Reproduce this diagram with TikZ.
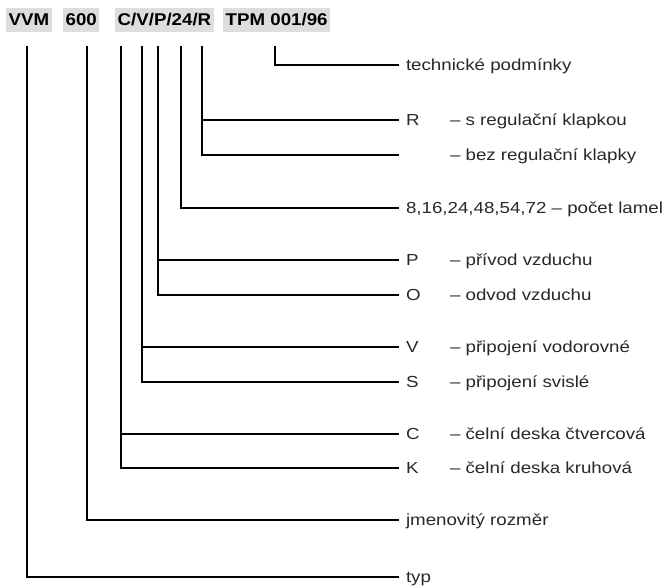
\documentclass[tikz,border=0pt]{standalone}
\usepackage{fontspec}
\setmainfont{Liberation Sans}[FakeStretch=1.1]
\newfontfamily\labelfont{Liberation Sans}[FakeStretch=1.17]
\usepackage{xcolor}
\usetikzlibrary{positioning}

\definecolor{boxgray}{RGB}{221,221,221}
\definecolor{labelgray}{RGB}{40,40,40}

\begin{document}
\begin{tikzpicture}[x=1pt, y=-1pt,
    field/.style={fill=boxgray, anchor=west, inner xsep=2.5pt, inner ysep=0pt,
        minimum height=24pt, text=black, font=\fontsize{17}{20}\selectfont\bfseries},
    code/.style={anchor=west, inner sep=0pt, outer xsep=7pt, text height=11.5pt,
        text depth=0pt, text=labelgray, font=\labelfont\fontsize{16}{19}\selectfont},
    desc/.style={code, outer xsep=0pt},
    lead/.style={line width=1.8pt, black}]
    \useasboundingbox (0,0) rectangle (666,587);

    % Type designation
    \node[field] (hVVM) at (6,20) {VVM};
    \node[field] (h600) at (63,20) {600};
    \node[field] (hCode) at (115,20) {C/V/P/24/R};
    \node[field] (hTPM) at (223,20) {TPM 001/96};

    % Tops of the leaders, under single characters
    \coordinate (tVVM) at (27,46);
    \coordinate (t600) at (87,46);
    \coordinate (tC) at (121,46);
    \coordinate (tV) at (142,46);
    \coordinate (tP) at (158,46);
    \coordinate (tN) at (181,46);
    \coordinate (tR) at (202,46);
    \coordinate (tTPM) at (275,46);

    % --- LABELS ---
    \node[code] (lTPM) at (399,65) {technické podmínky};

    \node[code] (lR) at (399,120) {R};
    \node[desc] (dR) at (450,120) {– s regulační klapkou};
    \coordinate (eR) at (399,155);
    \node[desc] (dR0) at (450,155) {– bez regulační klapky};

    \node[code] (lN) at (399,208) {8,16,24,48,54,72 – počet lamel};

    \node[code] (lP) at (399,260) {P};
    \node[desc] (dP) at (450,260) {– přívod vzduchu};
    \node[code] (lO) at (399,295) {O};
    \node[desc] (dO) at (450,295) {– odvod vzduchu};

    \node[code] (lV) at (399,347) {V};
    \node[desc] (dV) at (450,347) {– připojení vodorovné};
    \node[code] (lS) at (399,382) {S};
    \node[desc] (dS) at (450,382) {– připojení svislé};

    \node[code] (lC) at (399,434) {C};
    \node[desc] (dC) at (450,434) {– čelní deska čtvercová};
    \node[code] (lK) at (399,468) {K};
    \node[desc] (dK) at (450,468) {– čelní deska kruhová};

    \node[code] (l600) at (399,520) {jmenovitý rozměr};
    \node[code] (lVVM) at (399,577) {typ};

    % --- LEADERS ---
    \draw[lead] (tTPM) |- (lTPM.west);
    \draw[lead] (tR) |- (lR.west);
    \draw[lead] (tR) |- (eR);
    \draw[lead] (tN) |- (lN.west);
    \draw[lead] (tP) |- (lP.west);
    \draw[lead] (tP) |- (lO.west);
    \draw[lead] (tV) |- (lV.west);
    \draw[lead] (tV) |- (lS.west);
    \draw[lead] (tC) |- (lC.west);
    \draw[lead] (tC) |- (lK.west);
    \draw[lead] (t600) |- (l600.west);
    \draw[lead] (tVVM) |- (lVVM.west);
\end{tikzpicture}
\end{document}
